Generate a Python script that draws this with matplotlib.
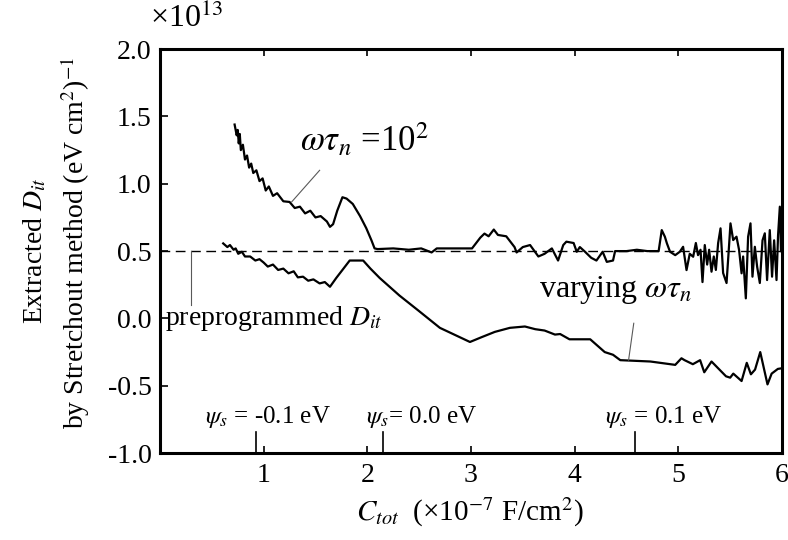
import matplotlib
matplotlib.use("Agg")
import matplotlib.pyplot as plt

plt.rcParams['font.family'] = ['Liberation Serif', 'DejaVu Serif']
plt.rcParams['mathtext.fontset'] = 'stix'

# extracted Dit with omega*tau_n = 1e2 (units of 1e13)
x_fixed = [0.72, 0.74, 0.75, 0.76, 0.77, 0.78, 0.80, 0.82, 0.84, 0.86, 0.88, 0.90, 0.93, 0.96, 0.99,
           1.02, 1.05, 1.09, 1.13, 1.19, 1.25, 1.30, 1.35, 1.40, 1.45, 1.50, 1.55, 1.61, 1.64, 1.67,
           1.71, 1.76, 1.80, 1.86, 1.93, 1.99, 2.04, 2.07, 2.10, 2.25, 2.40, 2.52, 2.62, 2.67, 2.80,
           3.01, 3.09, 3.13, 3.17, 3.22, 3.26, 3.34, 3.42, 3.44, 3.50, 3.57, 3.65, 3.71, 3.78, 3.84,
           3.89, 3.92, 3.99, 4.02, 4.05, 4.10, 4.16, 4.21, 4.27, 4.31, 4.37, 4.39, 4.50, 4.60, 4.70,
           4.81, 4.84, 4.87, 4.89, 4.92, 4.97, 5.014, 5.046, 5.079, 5.11, 5.143, 5.169, 5.19, 5.214,
           5.233, 5.255, 5.278, 5.297, 5.32, 5.342, 5.362, 5.384, 5.407, 5.432, 5.465, 5.49, 5.503,
           5.529, 5.561, 5.586, 5.61, 5.625, 5.651, 5.673, 5.696, 5.715, 5.738, 5.76, 5.786, 5.812,
           5.834, 5.856, 5.882, 5.904, 5.924, 5.947, 5.962, 5.979, 5.99]
y_fixed = [1.44, 1.36, 1.40, 1.30, 1.37, 1.25, 1.29, 1.18, 1.21, 1.12, 1.15, 1.08, 1.10, 1.02, 1.04,
           0.95, 0.98, 0.91, 0.93, 0.87, 0.865, 0.82, 0.83, 0.78, 0.80, 0.75, 0.76, 0.72, 0.68, 0.70,
           0.80, 0.90, 0.89, 0.85, 0.76, 0.67, 0.58, 0.52, 0.515, 0.52, 0.51, 0.52, 0.49, 0.52, 0.52,
           0.52, 0.60, 0.63, 0.61, 0.66, 0.62, 0.61, 0.53, 0.49, 0.53, 0.545, 0.46, 0.48, 0.52, 0.43,
           0.545, 0.57, 0.56, 0.495, 0.53, 0.495, 0.45, 0.43, 0.495, 0.42, 0.43, 0.50, 0.50, 0.51, 0.50,
           0.50, 0.656, 0.607, 0.557, 0.495, 0.47, 0.495, 0.532, 0.359, 0.48, 0.458, 0.56, 0.47, 0.51,
           0.27, 0.545, 0.40, 0.51, 0.347, 0.46, 0.36, 0.56, 0.669, 0.337, 0.263, 0.55, 0.706,
           0.582, 0.607, 0.508, 0.335, 0.46, 0.149, 0.607, 0.706, 0.31, 0.532, 0.384, 0.263, 0.58,
           0.632, 0.285, 0.656, 0.31, 0.58, 0.285, 0.619, 0.83, 0.50]

# extracted Dit with varying omega*tau_n
x_vary = [0.61, 0.65, 0.675, 0.71, 0.73, 0.755, 0.79, 0.82, 0.87, 0.92, 0.96, 1.00, 1.04, 1.09,
          1.14, 1.19, 1.24, 1.29, 1.33, 1.38, 1.43, 1.48, 1.54, 1.59, 1.64, 1.70, 1.83, 1.90, 1.96,
          2.03, 2.12, 2.31, 2.49, 2.70, 2.99, 3.10, 3.23, 3.375, 3.52, 3.62, 3.71, 3.81, 3.86, 3.95,
          4.15, 4.29, 4.37, 4.44, 4.73, 4.97, 5.03, 5.06, 5.14, 5.21, 5.25, 5.32, 5.46, 5.50, 5.53,
          5.61, 5.66, 5.70, 5.74, 5.79, 5.86, 5.90, 5.96, 6.00]
y_vary = [0.557, 0.53, 0.545, 0.51, 0.52, 0.48, 0.495, 0.46, 0.46, 0.43, 0.44, 0.415, 0.385, 0.40,
          0.36, 0.37, 0.335, 0.35, 0.305, 0.31, 0.28, 0.29, 0.26, 0.27, 0.235, 0.30, 0.43, 0.43, 0.43,
          0.37, 0.30, 0.17, 0.06, -0.07, -0.175, -0.14, -0.10, -0.07, -0.06, -0.08, -0.09, -0.12,
          -0.116, -0.155, -0.155, -0.25, -0.27, -0.31, -0.32, -0.345, -0.296, -0.31, -0.34, -0.31,
          -0.40, -0.32, -0.43, -0.44, -0.41, -0.465, -0.33, -0.415, -0.38, -0.25, -0.49, -0.41,
          -0.375, -0.37]

dit_preprogrammed = 0.5
psi_pos = [0.926, 2.147, 4.58]
psi_labels = [r'$\psi_s$ = -0.1 eV', r'$\psi_s$= 0.0 eV', r'$\psi_s$ = 0.1 eV']
psi_text_x = [0.43, 1.99, 4.29]

fig = plt.figure(figsize=(7.88, 5.4), dpi=100)
ax = fig.add_axes([0.203, 0.161, 0.7894, 0.748])

ax.plot(x_fixed, y_fixed, color='black', lw=1.6)
ax.plot(x_vary, y_vary, color='black', lw=1.6)
ax.plot([0, 6], [dit_preprogrammed, dit_preprogrammed], color='black', lw=1.0, dashes=(7, 4))

# labels with leader lines
ax.plot([1.27, 1.54], [0.865, 1.10], color='0.35', lw=0.8)
ax.text(1.35, 1.32, r'$\omega\tau_n$ =10$^2$', fontsize=25, va='center', ha='left')
ax.plot([0.30, 0.30], [0.5, 0.10], color='0.35', lw=0.8)
ax.text(0.05, 0.0, r'preprogrammed $D_{it}$', fontsize=20, va='center', ha='left')
ax.plot([4.57, 4.52], [-0.036, -0.31], color='0.35', lw=0.8)
ax.text(3.66, 0.21, r'varying $\omega\tau_n$', fontsize=23, va='center', ha='left')

for p, lab, tx in zip(psi_pos, psi_labels, psi_text_x):
    ax.plot([p, p], [-1.0, -0.84], color='black', lw=1.2)
    ax.text(tx, -0.73, lab, fontsize=18, va='center', ha='left')

ax.set_xlim(0, 6)
ax.set_ylim(-1.0, 2.0)
ax.set_xticks([1, 2, 3, 4, 5, 6])
ax.set_yticks([-1.0, -0.5, 0.0, 0.5, 1.0, 1.5, 2.0])
ax.set_yticklabels(['-1.0', '-0.5', '0.0', '0.5', '1.0', '1.5', '2.0'])
ax.tick_params(axis='x', direction='in', top=True, length=5, width=1.2, labelsize=20, pad=7)
ax.tick_params(axis='y', direction='in', length=6, width=1.2, labelsize=20, pad=6)
for s in ax.spines.values():
    s.set_linewidth(2.2)

fig.text(0.19, 0.95, r'×10$^{13}$', fontsize=23, va='baseline', ha='left')
fig.text(0.044, 0.535, r'Extracted $D_{it}$', fontsize=20, rotation=90, va='center', ha='center')
fig.text(0.095, 0.55, r'by Stretchout method (eV cm$^2$)$^{-1}$', fontsize=20, rotation=90,
         va='center', ha='center')
fig.text(0.596, 0.052, r'$C_{tot}$  (×10$^{-7}$ F/cm$^2$)', fontsize=21, va='center', ha='center')

fig.savefig('out.png', dpi=100)
